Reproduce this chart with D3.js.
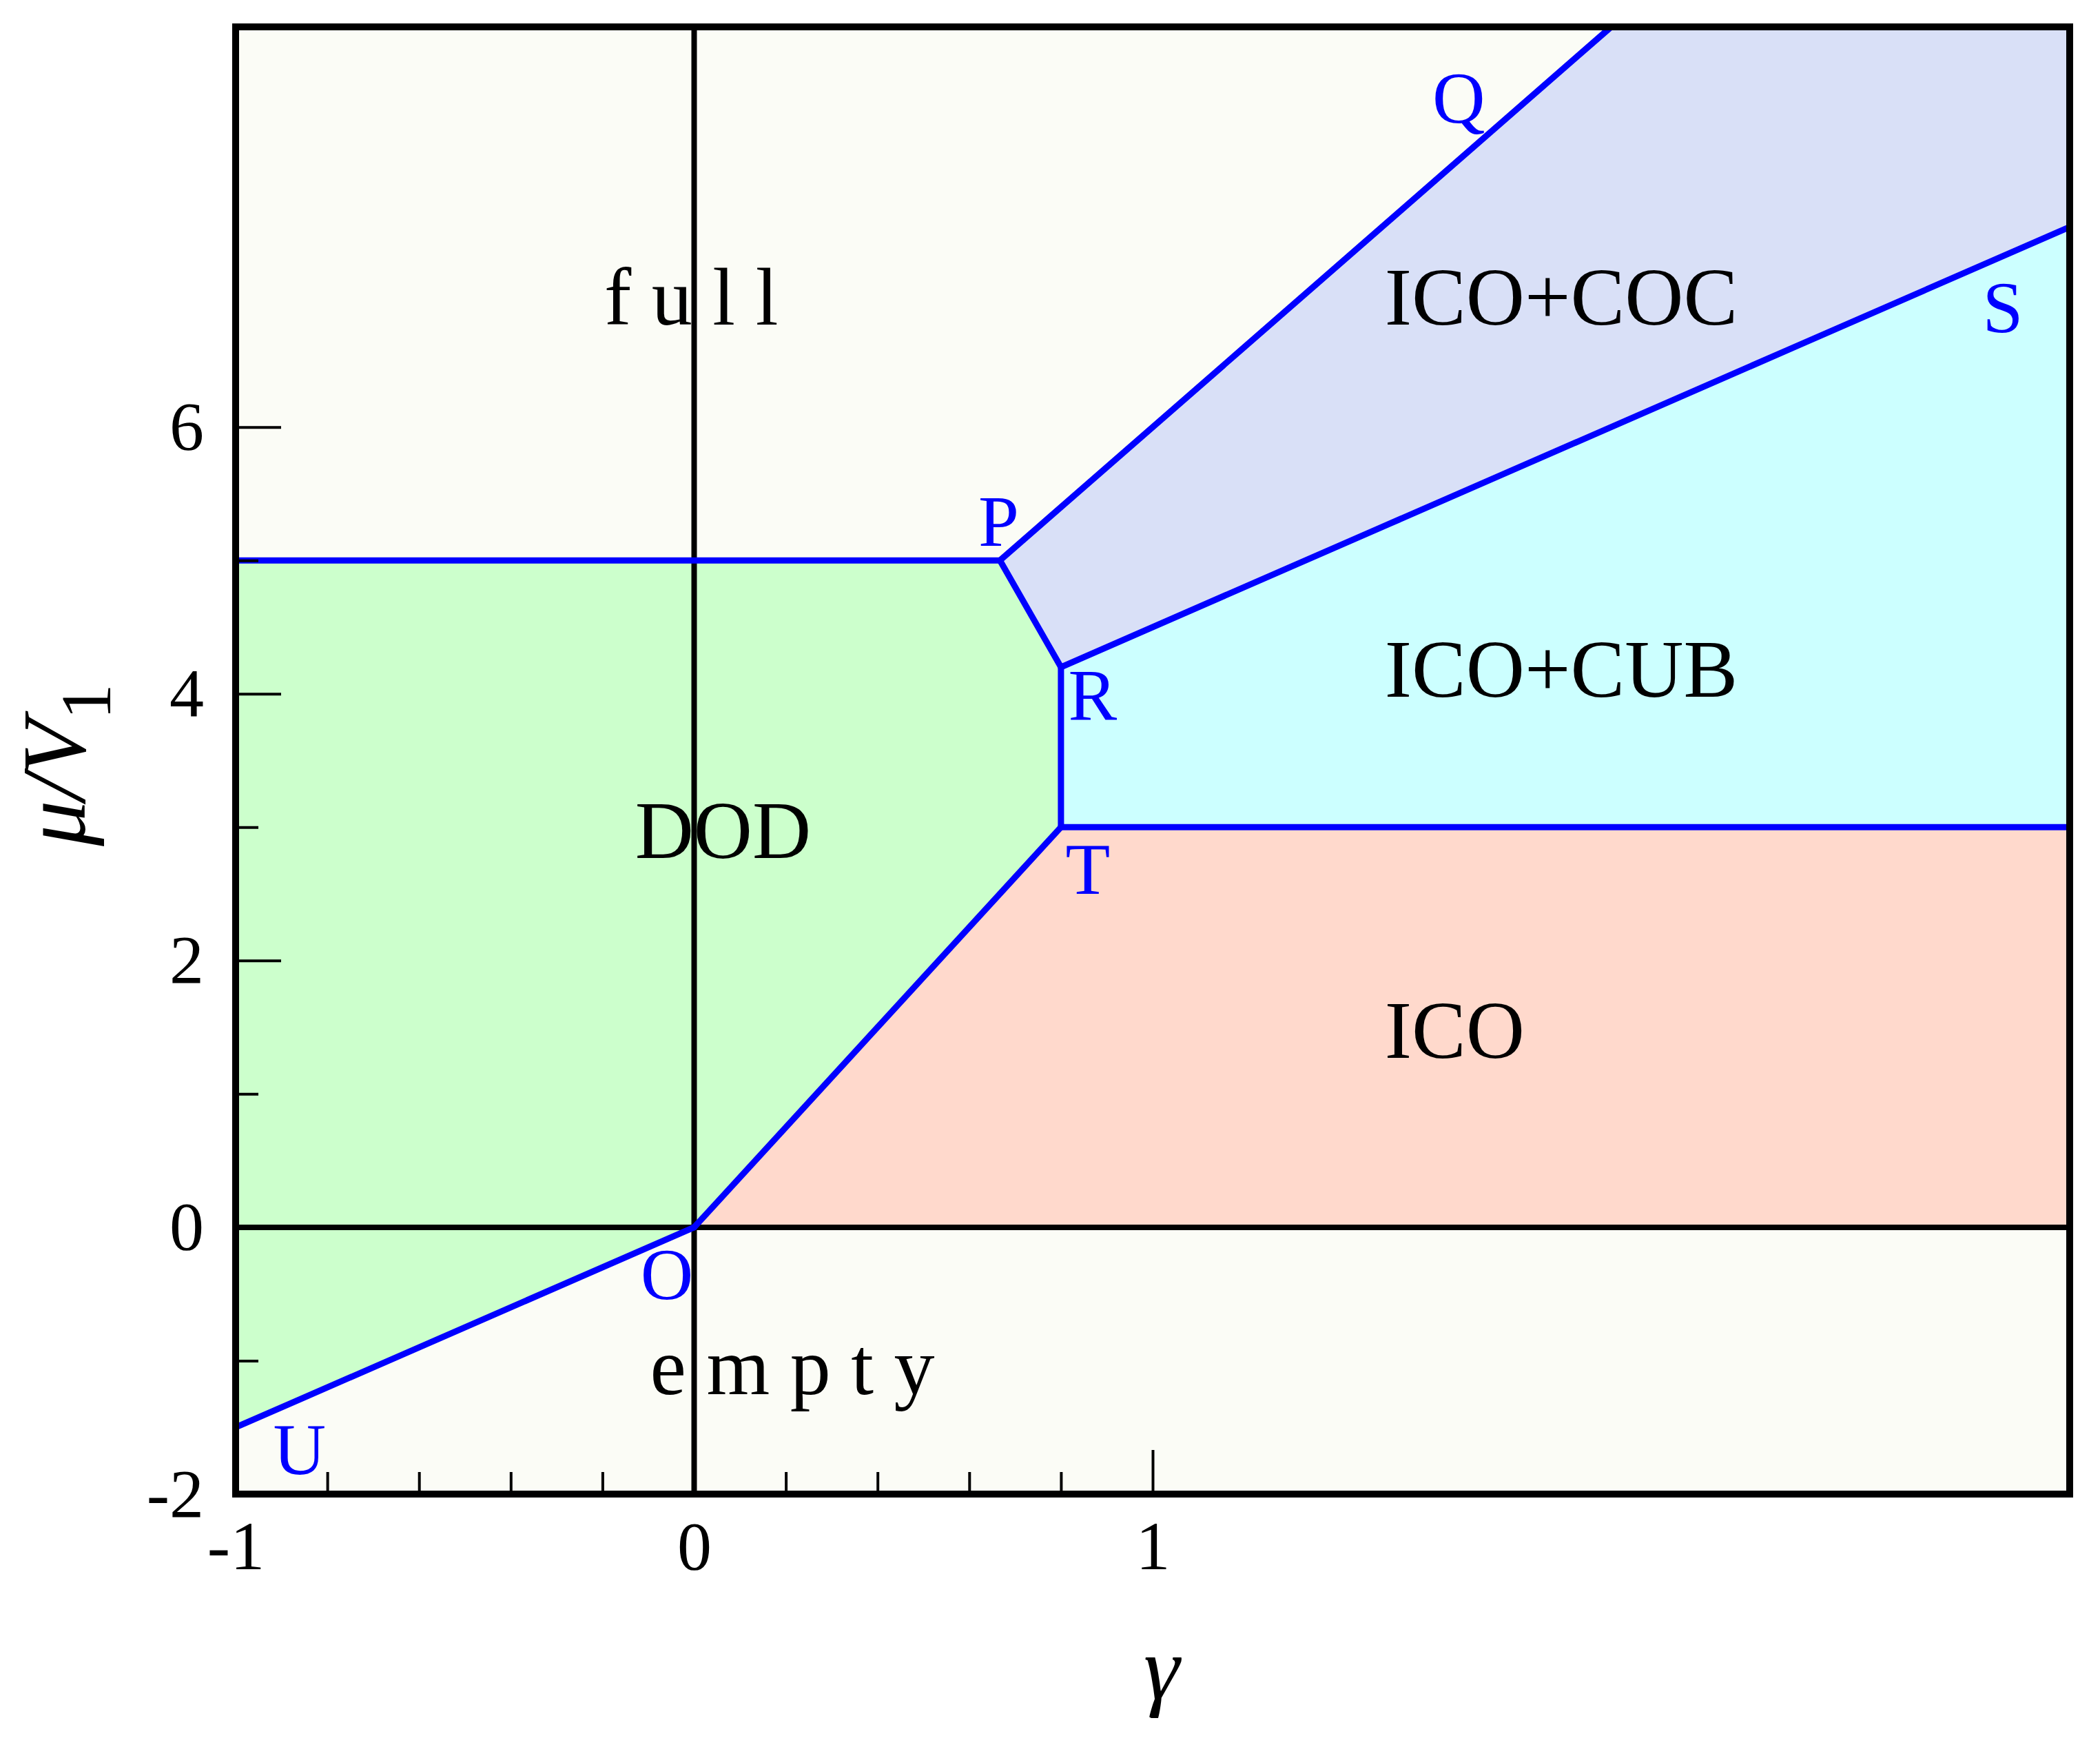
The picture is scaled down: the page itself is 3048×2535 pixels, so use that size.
<!DOCTYPE html>
<html>
<head>
<meta charset="utf-8">
<script src="https://cdn.jsdelivr.net/npm/d3@7"></script>
<style>
  body { margin: 0; background: #fff; }
  text { font-family: "Liberation Serif", "Times New Roman", serif; }
</style>
</head>
<body>
<script>
// phase diagram data (gamma, mu/V1)
var gammaRange = [-1, 3],
    muRange = [-2, 9];

var pointNames = ["O", "P", "Q", "R", "S", "T", "U"];
var pointGamma = [0, 0.667, 2, 0.8, 3, 0.8, -1];
var pointMu    = [0, 5, 9, 4.2, 7.5, 3, -1.5];
// where the letters sit
var pointLabelGamma = [-0.117, 0.62, 1.61, 0.816, 2.81, 0.81, -0.918];
var pointLabelMu    = [-0.54, 5.11, 8.28, 3.81, 6.71, 2.50, -1.85];

var phaseNames  = ["DOD", "ICO", "ICO+CUB", "ICO+COC"];
var phaseColors = ["#ccffcc", "#ffd9cc", "#ccffff", "#d9e0f7"];
var phasePolygons = [
    [["U"], ["O"], ["T"], ["R"], ["P"], [-1, 5]],
    [["O"], [3, 0], [3, 3], ["T"]],
    [["T"], [3, 3], ["S"], ["R"]],
    [["R"], ["S"], [3, 9], ["Q"], ["P"]]
];
var boundaries = [
    [[-1, 5], ["P"]],
    [["P"], ["Q"]],
    [["P"], ["R"]],
    [["R"], ["S"]],
    [["R"], ["T"]],
    [["T"], [3, 3]],
    [["O"], ["T"]],
    [["U"], ["O"]]
];

var regionLabels = ["f u l l", "DOD", "ICO+COC", "ICO+CUB", "ICO", "e m p t y"];
var regionGamma  = [-0.196, -0.129, 1.506, 1.506, 1.506, -0.096];
var regionMu     = [6.77, 2.77, 6.77, 3.98, 1.27, -1.25];

var xMajor = [-1, 0, 1],
    xMinor = [-0.8, -0.6, -0.4, -0.2, 0.2, 0.4, 0.6, 0.8],
    yMajor = [-2, 0, 2, 4, 6],
    yMinor = [-1, 1, 3, 5];

var W = 3048, H = 2535;
var plot = {left: 342, right: 3004, top: 39, bottom: 2168};

var svg = d3.select("body").append("svg")
        .attr("width", W)
        .attr("height", H);

var x = d3.scaleLinear().domain(gammaRange).range([plot.left, plot.right]);
var y = d3.scaleLinear().domain(muRange).range([plot.bottom, plot.top]);

function pt(p) {
    if (typeof p[0] === "string") {
        var i = pointNames.indexOf(p[0]);
        return [x(pointGamma[i]), y(pointMu[i])];
    }
    return [x(p[0]), y(p[1])];
}

// background (full / empty)
svg.append("rect")
    .attr("x", plot.left).attr("y", plot.top)
    .attr("width", plot.right - plot.left)
    .attr("height", plot.bottom - plot.top)
    .style("fill", "#fbfcf6");

// phase fills
svg.append("g").selectAll("path")
    .data(phasePolygons).enter()
    .append("path")
        .attr("d", function(d) { return "M" + d.map(pt).join("L") + "Z"; })
        .style("fill", function(d, i) { return phaseColors[i]; })
        .style("stroke", "none");

// zero lines
svg.append("line")
    .attr("x1", x(0)).attr("x2", x(0))
    .attr("y1", plot.top).attr("y2", plot.bottom)
    .style("stroke", "#000").style("stroke-width", 8);
svg.append("line")
    .attr("x1", plot.left).attr("x2", plot.right)
    .attr("y1", y(0)).attr("y2", y(0))
    .style("stroke", "#000").style("stroke-width", 8);

// phase boundaries
svg.append("g").selectAll("path")
    .data(boundaries).enter()
    .append("path")
        .attr("d", function(d) { return "M" + d.map(pt).join("L"); })
        .style("fill", "none")
        .style("stroke", "#0000ff")
        .style("stroke-width", 9)
        .style("stroke-linecap", "round")
        .style("stroke-linejoin", "round");

// ticks
function styleAxis(g) {
    g.select(".domain").remove();
    g.selectAll(".tick line").style("stroke", "#000").style("stroke-width", 4);
    g.selectAll(".tick text")
        .style("font-family", "'Liberation Serif', serif")
        .style("font-size", "100px")
        .style("fill", "#000");
}
svg.append("g")
    .attr("transform", "translate(0," + plot.bottom + ")")
    .call(d3.axisBottom(x).tickValues(xMajor).tickSize(-64).tickPadding(38)
        .tickFormat(function(d) { return d < 0 ? "-" + Math.abs(d) : d; }))
    .call(styleAxis);
svg.append("g")
    .attr("transform", "translate(0," + plot.bottom + ")")
    .call(d3.axisBottom(x).tickValues(xMinor).tickSize(-32).tickFormat(""))
    .call(styleAxis);
svg.append("g")
    .attr("transform", "translate(" + plot.left + ",0)")
    .call(d3.axisLeft(y).tickValues(yMajor).tickSize(-66).tickPadding(46)
        .tickFormat(function(d) { return d < 0 ? "-" + Math.abs(d) : d; }))
    .call(styleAxis);
svg.append("g")
    .attr("transform", "translate(" + plot.left + ",0)")
    .call(d3.axisLeft(y).tickValues(yMinor).tickSize(-33).tickFormat(""))
    .call(styleAxis);

// frame
svg.append("rect")
    .attr("x", plot.left).attr("y", plot.top)
    .attr("width", plot.right - plot.left)
    .attr("height", plot.bottom - plot.top)
    .style("fill", "none")
    .style("stroke", "#000")
    .style("stroke-width", 10);

// region names
svg.append("g").selectAll("text")
    .data(regionLabels).enter()
    .append("text")
        .attr("x", function(d, i) { return x(regionGamma[i]); })
        .attr("y", function(d, i) { return y(regionMu[i]); })
        .style("font-size", "118px")
        .style("fill", "#000")
        .style("white-space", "pre")
        .text(function(d) { return d; });

// point letters
svg.append("g").selectAll("text")
    .data(pointNames).enter()
    .append("text")
        .attr("x", function(d, i) { return x(pointLabelGamma[i]); })
        .attr("y", function(d, i) { return y(pointLabelMu[i]); })
        .style("font-size", "106px")
        .style("fill", "#0000ff")
        .text(function(d) { return d; });

// axis titles
svg.append("text")
    .attr("x", 1686).attr("y", 2465)
    .attr("text-anchor", "middle")
    .style("font-size", "132px")
    .style("font-style", "italic")
    .text("\u03b3");

var ylab = svg.append("text")
    .attr("transform", "translate(123,1110) rotate(-90)")
    .attr("text-anchor", "middle")
    .style("font-size", "132px");
ylab.append("tspan").style("font-style", "italic").text("\u03bc/V");
ylab.append("tspan").attr("dy", 37).style("font-size", "104px").text("1");
</script>
</body>
</html>
